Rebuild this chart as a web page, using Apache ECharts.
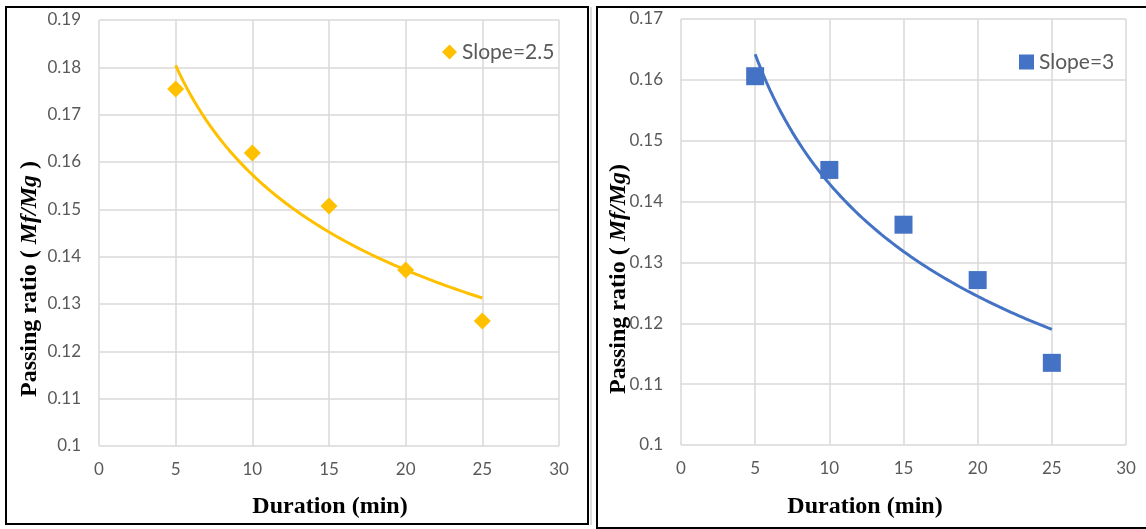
<!DOCTYPE html>
<html>
<head>
<meta charset="utf-8">
<script src="https://cdn.jsdelivr.net/npm/echarts@6/dist/echarts.min.js"></script>
<style>
  html, body { margin: 0; padding: 0; background: #fff; }
  #chart { width: 1146px; height: 529px; }
</style>
</head>
<body>
<div id="chart"></div>
<script>
// Measured passing ratios for each filter slope
const durations = [5, 10, 15, 20, 25];
const ratioSlope25 = [0.1754, 0.1619, 0.1507, 0.1372, 0.1264];
const ratioSlope3 = [0.1606, 0.1452, 0.1362, 0.1271, 0.1135];
const seriesNames = ['Slope=2.5', 'Slope=3'];

// Axis ranges and tick steps
const xRange = [0, 30, 5];
const yRangeLeft = [0.1, 0.19, 0.01];
const yRangeRight = [0.1, 0.17, 0.01];

const xTitle = 'Duration (min)';
const yTitleLeft = ['Passing ratio ( ', 'Mf/Mg', ' )'];
const yTitleRight = ['Passing ratio ( ', 'Mf/Mg', ')'];

const YELLOW = '#FFC000';
const BLUE = '#4472C4';
const LABEL_GREY = '#595959';
const GRID_GREY = '#d9d9d9';

// Power-law trendline y = a * x^b, least squares in log-log space
function powerFit(xs, ys) {
  const lx = xs.map(Math.log), ly = ys.map(Math.log);
  const n = xs.length;
  const mx = lx.reduce((s, v) => s + v, 0) / n;
  const my = ly.reduce((s, v) => s + v, 0) / n;
  let sxy = 0, sxx = 0;
  for (let i = 0; i < n; i++) {
    sxy += (lx[i] - mx) * (ly[i] - my);
    sxx += (lx[i] - mx) * (lx[i] - mx);
  }
  const b = sxy / sxx;
  const a = Math.exp(my - b * mx);
  return { a, b };
}
function trendCurve(xs, ys) {
  const { a, b } = powerFit(xs, ys);
  const pts = [];
  const x0 = xs[0], x1 = xs[xs.length - 1];
  const steps = 80;
  for (let i = 0; i <= steps; i++) {
    const x = x0 + (x1 - x0) * i / steps;
    pts.push([x, a * Math.pow(x, b)]);
  }
  return pts;
}

const pairs = (xs, ys) => xs.map((x, i) => [x, ys[i]]);
const fmtY = v => String(+v.toFixed(2));

function xAxisFor(gridIndex) {
  return {
    type: 'value', gridIndex,
    min: xRange[0], max: xRange[1], interval: xRange[2],
    axisLine: { show: false }, axisTick: { show: false },
    axisLabel: { color: LABEL_GREY, fontFamily: 'Lato', fontSize: 17, margin: 15 },
    splitLine: { show: true, lineStyle: { color: GRID_GREY, width: 1.5 } }
  };
}
function yAxisFor(gridIndex, r) {
  return {
    type: 'value', gridIndex,
    min: r[0], max: r[1], interval: r[2],
    axisLine: { show: false }, axisTick: { show: false },
    axisLabel: { color: LABEL_GREY, fontFamily: 'Lato', fontSize: 17, margin: 18, formatter: fmtY },
    splitLine: { show: true, lineStyle: { color: GRID_GREY, width: 1.5 } }
  };
}

function yTitle(x, y, parts) {
  const base = { fontFamily: 'Liberation Serif', fontWeight: 'bold', fontSize: 24, fill: '#000' };
  return {
    type: 'text', x, y, rotation: Math.PI / 2, z: 10,
    style: {
      text: '{t|' + parts[0] + '}{m|' + parts[1] + '}{t|' + parts[2] + '}',
      rich: { t: base, m: Object.assign({}, base, { fontStyle: 'italic' }) },
      align: 'center', verticalAlign: 'middle'
    }
  };
}
function xTitleAt(x, y) {
  return {
    type: 'text', x, y, z: 10,
    style: {
      text: xTitle, fontFamily: 'Liberation Serif', fontWeight: 'bold', fontSize: 24,
      fill: '#000', align: 'center', verticalAlign: 'middle'
    }
  };
}

const chart = echarts.init(document.getElementById('chart'), null, { renderer: 'canvas' });

chart.setOption({
  backgroundColor: '#fff',
  animation: false,
  grid: [
    { left: 99, top: 20, width: 460, height: 426 },
    { left: 681, top: 19, width: 445, height: 426 }
  ],
  xAxis: [xAxisFor(0), xAxisFor(1)],
  yAxis: [yAxisFor(0, yRangeLeft), yAxisFor(1, yRangeRight)],
  legend: [
    {
      data: [{ name: seriesNames[0], icon: 'diamond' }],
      left: 442, top: 41, padding: 0, itemWidth: 15, itemHeight: 15,
      selectedMode: false,
      textStyle: { fontFamily: 'Lato', fontSize: 21, color: LABEL_GREY, lineHeight: 22 }
    },
    {
      data: [{ name: seriesNames[1], icon: 'rect' }],
      left: 1019, top: 51, padding: 0, itemWidth: 15, itemHeight: 15,
      selectedMode: false,
      textStyle: { fontFamily: 'Lato', fontSize: 21, color: LABEL_GREY, lineHeight: 22 }
    }
  ],
  series: [
    {
      name: seriesNames[0], type: 'scatter', xAxisIndex: 0, yAxisIndex: 0,
      symbol: 'diamond', symbolSize: 17, itemStyle: { color: YELLOW, opacity: 1 },
      data: pairs(durations, ratioSlope25), z: 2
    },
    {
      name: 'trend-2.5', type: 'line', xAxisIndex: 0, yAxisIndex: 0,
      showSymbol: false, smooth: false, lineStyle: { color: YELLOW, width: 3 },
      itemStyle: { color: YELLOW },
      data: trendCurve(durations, ratioSlope25), z: 3
    },
    {
      name: seriesNames[1], type: 'scatter', xAxisIndex: 1, yAxisIndex: 1,
      symbol: 'rect', symbolSize: 18, itemStyle: { color: BLUE, opacity: 1 },
      data: pairs(durations, ratioSlope3), z: 2
    },
    {
      name: 'trend-3', type: 'line', xAxisIndex: 1, yAxisIndex: 1,
      showSymbol: false, smooth: false, lineStyle: { color: BLUE, width: 3 },
      itemStyle: { color: BLUE },
      data: trendCurve(durations, ratioSlope3), z: 3
    }
  ],
  graphic: [
    // panel frames
    { type: 'rect', shape: { x: 6, y: 7, width: 582, height: 517 },
      style: { fill: null, stroke: '#000', lineWidth: 2 }, z: 20 },
    { type: 'line', shape: { x1: 591, y1: 7, x2: 591, y2: 525 },
      style: { stroke: '#bbb', lineWidth: 1 }, z: 20 },
    { type: 'rect', shape: { x: 597, y: 7, width: 560, height: 521 },
      style: { fill: null, stroke: '#000', lineWidth: 2 }, z: 20 },
    yTitle(30, 279, yTitleLeft),
    yTitle(619, 279, yTitleRight),
    xTitleAt(330, 507),
    xTitleAt(865, 507)
  ]
});
</script>
</body>
</html>
